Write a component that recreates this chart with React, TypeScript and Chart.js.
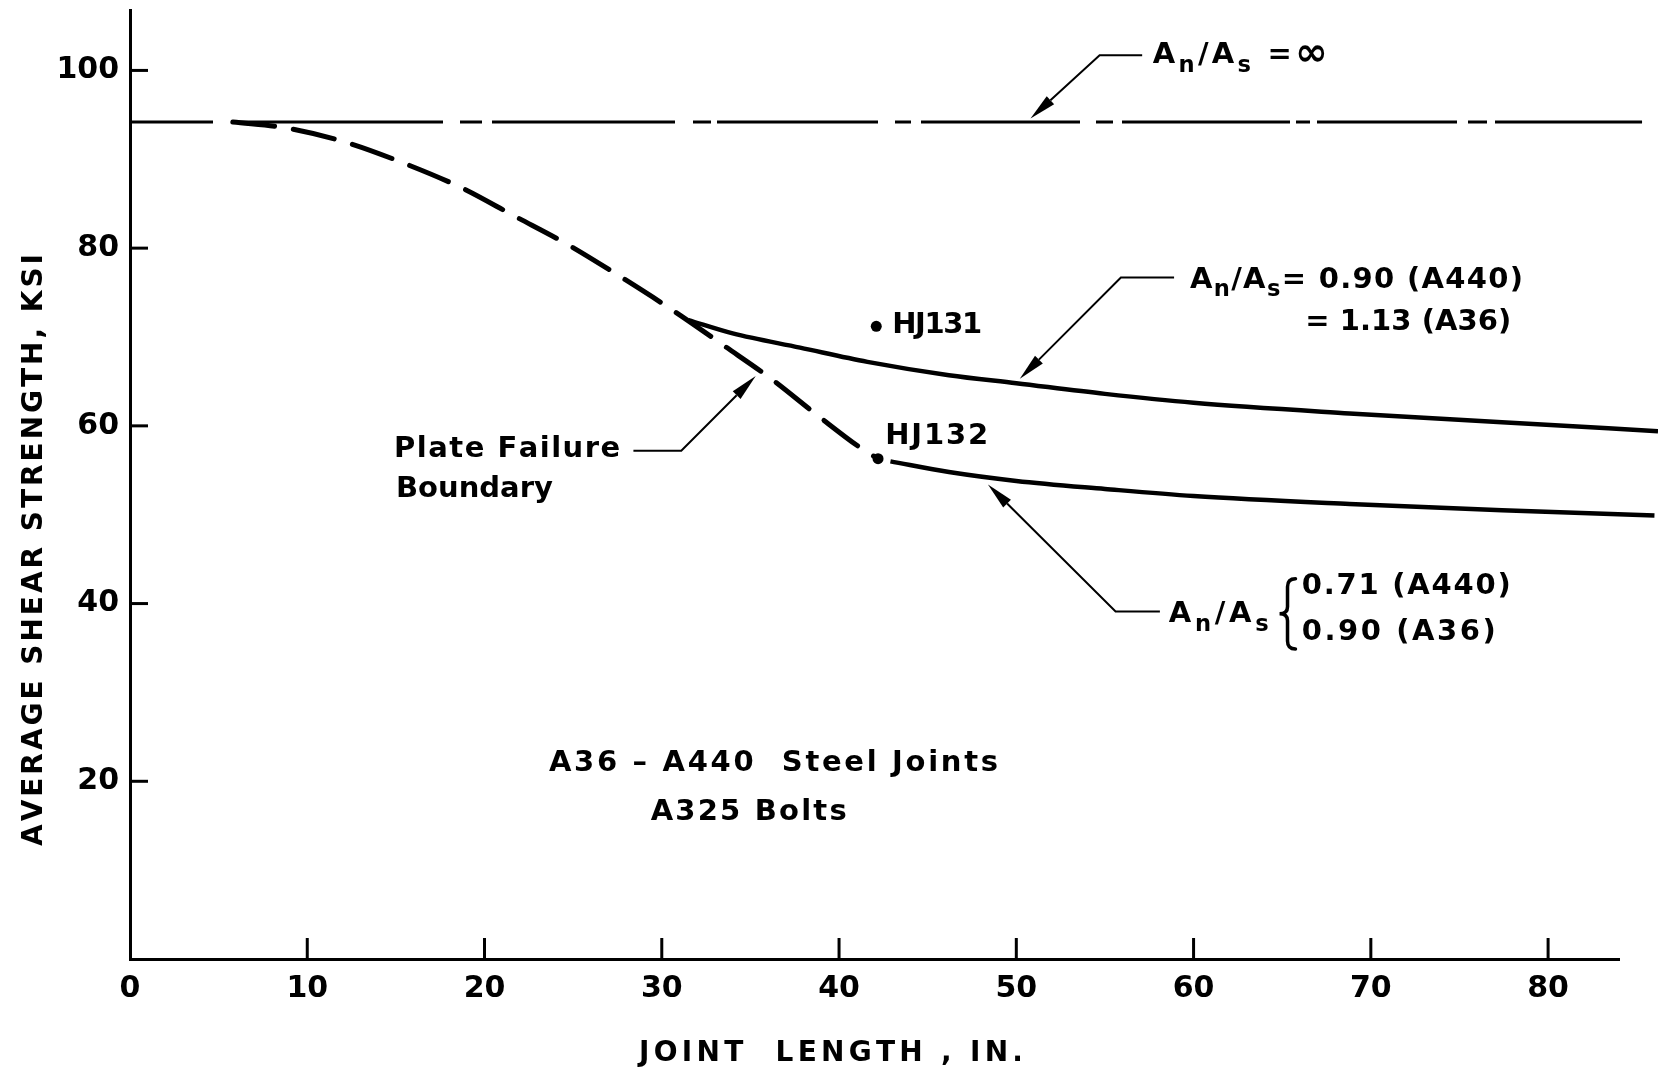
import React, { useEffect, useRef } from 'react';
import { Chart, registerables } from 'chart.js';

Chart.register(...registerables);

// ---------------- data ----------------
const xTickValues = [0, 10, 20, 30, 40, 50, 60, 70, 80];
const yTickValues = [20, 40, 60, 80, 100];

const infiniteRatioX = [0, 85.3];
const infiniteRatioY = [94.2, 94.2];

const plateBoundaryX = [5.8, 8.9, 12.2, 15.4, 18.7, 21.7, 24.7, 27.5, 30.7, 33.6, 36.1, 38.9, 41.3, 42.2];
const plateBoundaryY = [94.2, 93.5, 91.9, 89.6, 86.8, 83.6, 80.4, 77.0, 72.9, 68.9, 65.4, 61.0, 57.4, 56.3];

const ratio090X = [31.5, 34.0, 37.8, 41.6, 46.2, 50, 55, 60, 68.8, 77.4, 86.2];
const ratio090Y = [71.9, 70.4, 68.8, 67.2, 65.7, 64.8, 63.6, 62.6, 61.4, 60.4, 59.4];

const ratio071X = [42.9, 46.2, 50, 55, 60, 68.8, 77.4, 86.0];
const ratio071Y = [56.0, 54.8, 53.8, 52.9, 52.1, 51.2, 50.5, 49.9];

const testNames = ['HJ131', 'HJ132'];
const testX = [42.1, 42.2];
const testY = [71.2, 56.3];

// ---------------- styling / annotation layout ----------------
const FONT = '"DejaVu Sans", "Liberation Sans", sans-serif';
const WEIGHT = 'bold';
const TEXT_SIZE = 29;

type Seg = { t: string; sub?: boolean; big?: boolean };
const AN_AS: Seg[] = [{ t: 'A' }, { t: 'n', sub: true }, { t: '/' }, { t: 'A' }, { t: 's', sub: true }];

type Label = { x: number; y: number; segs: Seg[]; w: number; align?: 'left' | 'center' };
const labels: Label[] = [
  { x: 57.7, y: 101.7, segs: [...AN_AS, { t: ' =' }, { t: '∞', big: true }], w: 175 },
  { x: 59.8, y: 76.4, segs: [...AN_AS, { t: '= 0.90 (A440)' }], w: 333 },
  { x: 66.3, y: 71.6, segs: [{ t: '= 1.13 (A36)' }], w: 206 },
  { x: 58.6, y: 38.8, segs: [...AN_AS], w: 100 },
  { x: 66.1, y: 41.9, segs: [{ t: '0.71 (A440)' }], w: 209 },
  { x: 66.1, y: 36.8, segs: [{ t: '0.90 (A36)' }], w: 194 },
  { x: 14.9, y: 57.35, segs: [{ t: 'Plate Failure' }], w: 226 },
  { x: 15.0, y: 52.8, segs: [{ t: 'Boundary' }], w: 157 },
  { x: 43.0, y: 71.3, segs: [{ t: testNames[0] }], w: 90 },
  { x: 42.6, y: 58.8, segs: [{ t: testNames[1] }], w: 103 },
  { x: 36.3, y: 22.0, segs: [{ t: 'A36 – A440  Steel Joints' }], w: 449, align: 'center' },
  { x: 34.9, y: 16.5, segs: [{ t: 'A325 Bolts' }], w: 196, align: 'center' },
];

// leader lines: [x, y] in data units, last point carries the arrowhead
const leaders: number[][][] = [
  [[57.1, 101.7], [54.7, 101.7], [50.8, 94.6]],
  [[58.9, 76.7], [55.9, 76.7], [50.2, 65.3]],
  [[58.1, 39.1], [55.6, 39.1], [48.4, 53.4]],
  [[28.4, 57.2], [31.1, 57.2], [35.3, 65.6]],
];

const brace = { xl: 64.85, xr: 65.75, top: 42.8, bottom: 34.9 };

const hLineDash = [83, 19, 211, 17, 22, 10, 183, 18, 18, 6, 161, 17, 16, 10, 159, 16, 17, 9, 168, 6, 14, 7, 140, 11, 19, 8, 260, 0];

function drawFitted(ctx: CanvasRenderingContext2D, segs: Seg[], x: number, y: number, size: number, width: number, align: string) {
  const sizeOf = (s: { sub: boolean; big: boolean }) => (s.sub ? size * 0.78 : s.big ? size * 1.35 : size);
  const chars: { c: string; sub: boolean; big: boolean; w: number }[] = [];
  for (const s of segs) {
    const info = { sub: !!s.sub, big: !!s.big };
    ctx.font = `${WEIGHT} ${sizeOf(info)}px ${FONT}`;
    for (const c of Array.from(s.t)) chars.push({ c, ...info, w: ctx.measureText(c).width });
  }
  const natural = chars.reduce((a, b) => a + b.w, 0);
  const gap = chars.length > 1 ? (width - natural) / (chars.length - 1) : 0;
  let cx = align === 'center' ? x - width / 2 : x;
  ctx.textAlign = 'left';
  ctx.textBaseline = 'middle';
  for (const ch of chars) {
    ctx.font = `${WEIGHT} ${sizeOf(ch)}px ${FONT}`;
    ctx.fillText(ch.c, cx, y + (ch.sub ? size * 0.36 : 0));
    cx += ch.w + gap;
  }
}

const overlay = {
  id: 'overlay',
  afterDraw(chart: any) {
    const ctx: CanvasRenderingContext2D = chart.ctx;
    const xs = chart.scales.x;
    const ys = chart.scales.y;
    const X = (v: number) => xs.getPixelForValue(v);
    const Y = (v: number) => ys.getPixelForValue(v);
    ctx.save();
    ctx.strokeStyle = '#000';
    ctx.fillStyle = '#000';

    // inward tick marks
    ctx.lineWidth = 3;
    ctx.lineCap = 'butt';
    xs.ticks.forEach((t: any) => {
      if (t.value === 0) return;
      const px = X(t.value);
      ctx.beginPath();
      ctx.moveTo(px, ys.bottom);
      ctx.lineTo(px, ys.bottom - 21);
      ctx.stroke();
    });
    ys.ticks.forEach((t: any) => {
      const py = Y(t.value);
      ctx.beginPath();
      ctx.moveTo(xs.left, py);
      ctx.lineTo(xs.left + 18, py);
      ctx.stroke();
    });

    // axis titles
    ctx.save();
    ctx.translate(35, 550);
    ctx.rotate(-Math.PI / 2);
    drawFitted(ctx, [{ t: 'AVERAGE SHEAR STRENGTH, KSI' }], 0, 0, 28, 592, 'center');
    ctx.restore();
    drawFitted(ctx, [{ t: 'JOINT  LENGTH , IN.' }], 831, 1054, 28, 384, 'center');

    // annotation texts
    labels.forEach((l) => drawFitted(ctx, l.segs, X(l.x), Y(l.y), TEXT_SIZE, l.w, l.align || 'left'));

    // leaders with arrowheads
    ctx.lineWidth = 2;
    ctx.lineJoin = 'miter';
    leaders.forEach((pts) => {
      const p = pts.map(([a, b]) => [X(a), Y(b)]);
      const n = p.length;
      const [tx, ty] = p[n - 1];
      const [sx, sy] = p[n - 2];
      const ang = Math.atan2(ty - sy, tx - sx);
      const L = 27, H = 5.5;
      const bx = tx - L * Math.cos(ang), by = ty - L * Math.sin(ang);
      ctx.beginPath();
      ctx.moveTo(p[0][0], p[0][1]);
      for (let i = 1; i < n - 1; i++) ctx.lineTo(p[i][0], p[i][1]);
      ctx.lineTo(bx, by);
      ctx.stroke();
      ctx.beginPath();
      ctx.moveTo(tx, ty);
      ctx.lineTo(bx + H * Math.sin(ang), by - H * Math.cos(ang));
      ctx.lineTo(bx - H * Math.sin(ang), by + H * Math.cos(ang));
      ctx.closePath();
      ctx.fill();
    });

    // brace
    const xl = X(brace.xl), xr = X(brace.xr), top = Y(brace.top), bot = Y(brace.bottom);
    const mid = (top + bot) / 2, xm = (xl + xr) / 2;
    ctx.lineWidth = 3.5;
    ctx.lineCap = 'round';
    ctx.beginPath();
    ctx.moveTo(xr, top);
    ctx.quadraticCurveTo(xm, top, xm, top + 8);
    ctx.lineTo(xm, mid - 7);
    ctx.quadraticCurveTo(xm, mid, xl, mid);
    ctx.quadraticCurveTo(xm, mid, xm, mid + 7);
    ctx.lineTo(xm, bot - 8);
    ctx.quadraticCurveTo(xm, bot, xr, bot);
    ctx.stroke();

    ctx.restore();
  },
};

const pairs = (xs: number[], ys: number[]) => xs.map((x, i) => ({ x, y: ys[i] }));

export default function App() {
  const ref = useRef<HTMLCanvasElement | null>(null);
  useEffect(() => {
    if (!ref.current) return;
    const tickFont = { family: FONT, size: 30, weight: 'bold' };
    const chart = new Chart(ref.current, {
      type: 'scatter',
      data: {
        datasets: [
          {
            label: 'An/As = ∞',
            data: pairs(infiniteRatioX, infiniteRatioY),
            showLine: true,
            borderColor: '#000',
            borderWidth: 3,
            borderDash: hLineDash,
            pointRadius: 0,
            clip: false,
          } as any,
          {
            label: 'Plate Failure Boundary',
            data: pairs(plateBoundaryX, plateBoundaryY),
            showLine: true,
            borderColor: '#000',
            borderWidth: 5,
            borderDash: [42, 19],
            borderCapStyle: 'round',
            cubicInterpolationMode: 'monotone',
            tension: 0.4,
            pointRadius: 0,
            clip: false,
          },
          {
            label: 'An/As = 0.90 (A440) = 1.13 (A36)',
            data: pairs(ratio090X, ratio090Y),
            showLine: true,
            borderColor: '#000',
            borderWidth: 4.5,
            cubicInterpolationMode: 'monotone',
            tension: 0.4,
            pointRadius: 0,
            clip: false,
          },
          {
            label: 'An/As 0.71 (A440) 0.90 (A36)',
            data: pairs(ratio071X, ratio071Y),
            showLine: true,
            borderColor: '#000',
            borderWidth: 4.5,
            cubicInterpolationMode: 'monotone',
            tension: 0.4,
            pointRadius: 0,
            clip: false,
          },
          {
            label: 'Tests',
            data: pairs(testX, testY),
            showLine: false,
            pointRadius: 5.5,
            pointBackgroundColor: '#000',
            pointBorderWidth: 0,
          },
        ],
      },
      options: {
        animation: false,
        responsive: false,
        maintainAspectRatio: false,
        layout: { padding: { top: 10, right: 39, left: 0, bottom: 0 } },
        plugins: { legend: { display: false }, tooltip: { enabled: false } },
        scales: {
          x: {
            type: 'linear',
            min: 0,
            max: 84,
            afterBuildTicks: (s: any) => {
              s.ticks = xTickValues.map((v) => ({ value: v }));
            },
            afterFit: (s: any) => {
              s.height = 115;
              s.paddingLeft = 0;
              s.paddingRight = 0;
            },
            ticks: { font: tickFont, color: '#000', padding: 12, maxRotation: 0, autoSkip: false },
            grid: { display: false, drawTicks: false },
            border: { display: true, width: 3, color: '#000' },
          },
          y: {
            type: 'linear',
            min: 0,
            max: 106.8,
            afterBuildTicks: (s: any) => {
              s.ticks = yTickValues.map((v) => ({ value: v }));
            },
            afterFit: (s: any) => {
              s.width = 130;
              s.paddingTop = 0;
              s.paddingBottom = 0;
            },
            ticks: { font: tickFont, color: '#000', padding: 11, autoSkip: false },
            grid: { display: false, drawTicks: false },
            border: { display: true, width: 3, color: '#000' },
          },
        },
      },
      plugins: [overlay],
    } as any);
    return () => chart.destroy();
  }, []);
  return (
    <div style={{ position: 'absolute', left: 0, top: 0, width: 1658, height: 1074, background: '#fff' }}>
      <canvas ref={ref} width={1658} height={1074} style={{ display: 'block' }} />
    </div>
  );
}
